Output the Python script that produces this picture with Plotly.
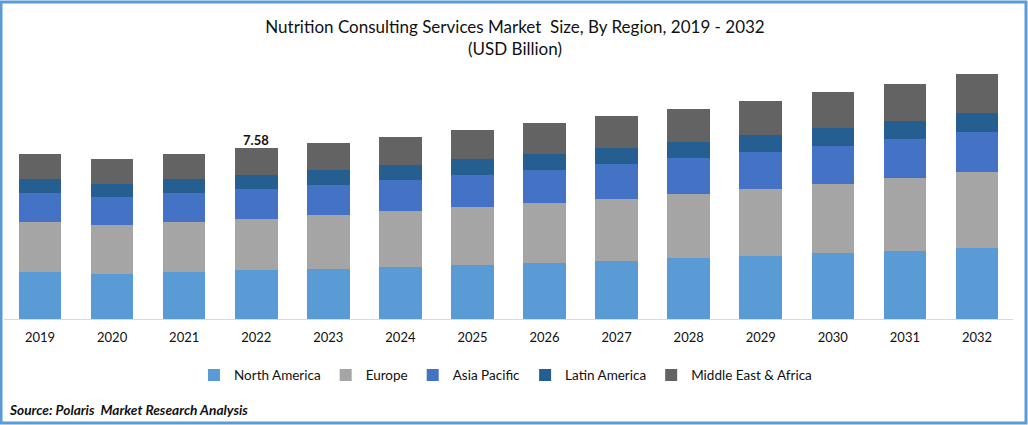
import plotly.graph_objects as go

years = ['2019', '2020', '2021', '2022', '2023', '2024', '2025', '2026', '2027', '2028', '2029', '2030', '2031', '2032']

north_america = [2.08, 1.99, 2.08, 2.17, 2.22, 2.30, 2.39, 2.48, 2.57, 2.70, 2.79, 2.93, 3.01, 3.15]
europe = [2.22, 2.17, 2.22, 2.26, 2.39, 2.48, 2.57, 2.66, 2.75, 2.84, 2.97, 3.06, 3.24, 3.37]
asia_pacific = [1.29, 1.24, 1.29, 1.33, 1.33, 1.37, 1.42, 1.46, 1.55, 1.60, 1.64, 1.68, 1.73, 1.77]
latin_america = [0.62, 0.58, 0.62, 0.62, 0.66, 0.66, 0.71, 0.71, 0.71, 0.71, 0.75, 0.80, 0.80, 0.84]
middle_east = [1.11, 1.11, 1.11, 1.20, 1.20, 1.24, 1.29, 1.37, 1.42, 1.46, 1.51, 1.60, 1.64, 1.73]

series = [
    ('North America', north_america, '#5B9BD5'),
    ('Europe', europe, '#A5A5A5'),
    ('Asia Pacific', asia_pacific, '#4472C4'),
    ('Latin America', latin_america, '#255E91'),
    ('Middle East & Africa', middle_east, '#636363'),
]

FONT = 'Lato'

fig = go.Figure()
for name, values, color in series:
    fig.add_trace(go.Bar(x=years, y=values, name=name, marker_color=color, marker_line_width=0))

fig.update_layout(
    width=1028,
    height=425,
    autosize=False,
    barmode='stack',
    bargap=0.41,
    paper_bgcolor='white',
    plot_bgcolor='white',
    margin=dict(l=4, r=15, t=60, b=106),
    font=dict(family=FONT, color='#111111', size=13),
    title=dict(
        text='Nutrition Consulting Services Market  Size, By Region, 2019 - 2032<br>(USD Billion)',
        x=515 / 1028,
        xanchor='center',
        y=0.922,
        yanchor='top',
        font=dict(family=FONT, size=17, color='#111111'),
    ),
    xaxis=dict(
        type='category',
        range=[-0.5, 13.5],
        automargin=False,
        showgrid=False,
        showline=True,
        linecolor='#D9D9D9',
        linewidth=1,
        ticks='outside',
        ticklen=6,
        tickcolor='rgba(0,0,0,0)',
    ),
    yaxis=dict(visible=False, range=[0, 11.48]),
    legend=dict(
        orientation='h',
        x=0.497,
        xanchor='center',
        y=-0.157,
        yanchor='top',
        font=dict(family=FONT, size=13.5, color='#111111'),
        traceorder='normal',
    ),
    showlegend=True,
)

# only 2022 is labelled in the original, x is the category index
fig.add_annotation(
    x=years.index('2022'), y=7.58, text='<b>7.58</b>', showarrow=False, yanchor='bottom', yshift=-2,
    font=dict(family=FONT, size=13, color='#111111'),
)
fig.add_annotation(
    xref='paper', yref='paper', x=3 / 1009, y=-90 / 259, xanchor='left', yanchor='middle', showarrow=False,
    text='<b><i>Source: Polaris  Market Research Analysis</i></b>',
    font=dict(family=FONT, size=13.7, color='#111111'),
)

# blue frame round the picture
fig.add_shape(
    type='rect', xref='paper', yref='paper',
    x0=-3 / 1009, x1=1022 / 1009, y0=-104 / 259, y1=1 + 58 / 259,
    line=dict(color='#5B9BD5', width=3), fillcolor='rgba(0,0,0,0)',
)

fig.write_html("out.html", config={'displayModeBar': False}, post_script="document.body.style.margin='0';")
